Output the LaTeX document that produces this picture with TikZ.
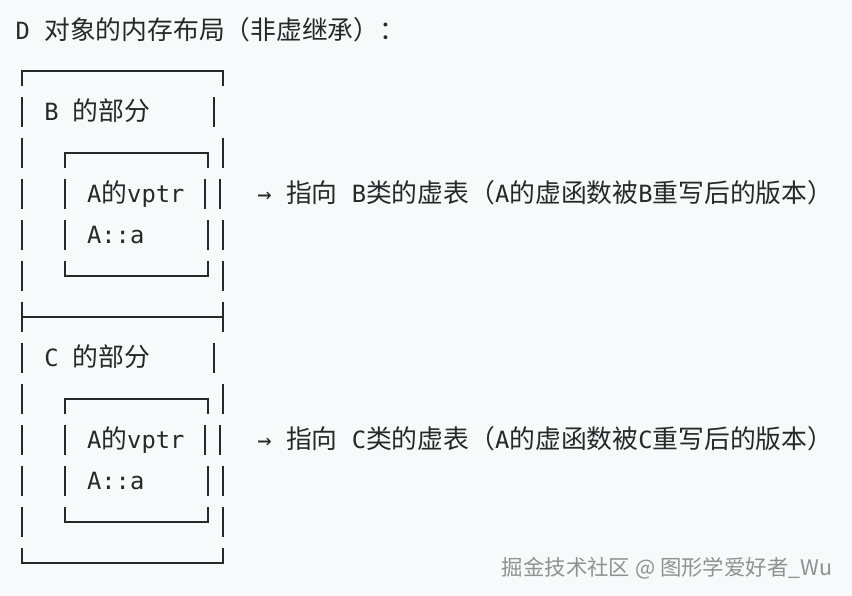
\documentclass[tikz,border=0pt]{standalone}
\usepackage{fontspec}
\setmonofont{DejaVu Sans Mono}
\newfontfamily\cjk[Scale=1.086]{Noto Sans CJK SC}
\newfontfamily\wmfont{Noto Sans CJK SC}
\definecolor{bgcol}{RGB}{248,249,250}
\definecolor{inkcol}{RGB}{40,40,40}
\definecolor{markcol}{RGB}{145,145,145}
\newcommand{\zh}[1]{{\cjk #1}}

\begin{document}
\begin{tikzpicture}[x=1pt,y=-1pt,line width=1.6pt,
  txt/.style={anchor=base west,inner sep=0pt,text=inkcol,
    font=\ttfamily\fontsize{23.75}{28}\selectfont}]
  \fill[bgcol] (0,0) rectangle (852,596);
  \node[txt] (title) at (14.85,39.6) {D \zh{对象的内存布局（非虚继承）：}};
  % outer box, B part
  \draw[inkcol] (22,86) -- (22,71) -- (223,71) -- (223,86);
  \draw[inkcol] (22,97) -- (22,127);
  \draw[inkcol] (214,97) -- (214,127);
  \node[txt] (bpart) at (43.45,120.6) {B \zh{的部分}};
  \draw[inkcol] (22,138) -- (22,168);
  \draw[inkcol] (223,138) -- (223,168);
  \draw[inkcol] (65,168) -- (65,153) -- (208,153) -- (208,168);
  \draw[inkcol] (22,179) -- (22,209);
  \draw[inkcol] (65,179) -- (65,209);
  \draw[inkcol] (205,179) -- (205,209);
  \draw[inkcol] (220,179) -- (220,209);
  \node[txt] (bvptr) at (86.35,202.6) {A\zh{的}vptr};
  \node[txt] (bnote) at (256.6,202.6)
    {→ \zh{指向} B\zh{类的虚表（}A\zh{的虚函数被}B\zh{重写后的版本）}};
  \draw[inkcol] (22,220) -- (22,250);
  \draw[inkcol] (65,220) -- (65,250);
  \draw[inkcol] (208,220) -- (208,250);
  \draw[inkcol] (223,220) -- (223,250);
  \node[txt] (ba) at (86.35,243.6) {A::a};
  \draw[inkcol] (22,261) -- (22,291);
  \draw[inkcol] (223,261) -- (223,291);
  \draw[inkcol] (65,261) -- (65,276) -- (208,276) -- (208,261);
  % separator
  \draw[inkcol] (22,302) -- (22,332);
  \draw[inkcol] (223,302) -- (223,332);
  \draw[inkcol] (22,317) -- (223,317);
  % C part
  \draw[inkcol] (22,343) -- (22,373);
  \draw[inkcol] (214,343) -- (214,373);
  \node[txt] (cpart) at (43.45,366.6) {C \zh{的部分}};
  \draw[inkcol] (22,384) -- (22,414);
  \draw[inkcol] (223,384) -- (223,414);
  \draw[inkcol] (65,414) -- (65,399) -- (208,399) -- (208,414);
  \draw[inkcol] (22,425) -- (22,455);
  \draw[inkcol] (65,425) -- (65,455);
  \draw[inkcol] (205,425) -- (205,455);
  \draw[inkcol] (220,425) -- (220,455);
  \node[txt] (cvptr) at (86.35,448.6) {A\zh{的}vptr};
  \node[txt] (cnote) at (256.6,448.6)
    {→ \zh{指向} C\zh{类的虚表（}A\zh{的虚函数被}C\zh{重写后的版本）}};
  \draw[inkcol] (22,466) -- (22,496);
  \draw[inkcol] (65,466) -- (65,496);
  \draw[inkcol] (208,466) -- (208,496);
  \draw[inkcol] (223,466) -- (223,496);
  \node[txt] (ca) at (86.35,489.6) {A::a};
  \draw[inkcol] (22,507) -- (22,537);
  \draw[inkcol] (223,507) -- (223,537);
  \draw[inkcol] (65,507) -- (65,522) -- (208,522) -- (208,507);
  \draw[inkcol] (22,548) -- (22,563) -- (223,563) -- (223,548);
  % watermark
  \node[anchor=base east,inner sep=0pt,text=markcol,
    font=\wmfont\fontsize{21.4}{24}\selectfont] (mark) at (833,575)
    {掘金技术社区 @ 图形学爱好者\_Wu};
\end{tikzpicture}
\end{document}
